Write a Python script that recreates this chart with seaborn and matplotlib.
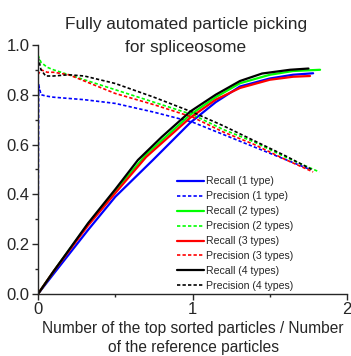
import matplotlib
matplotlib.use("Agg")
import matplotlib.pyplot as plt
import seaborn as sns
import pandas as pd
from matplotlib.ticker import MultipleLocator

# Dados (x = partículas top / partículas de referência)
x_rec_1 = [0, 0.1, 0.324, 0.5, 0.744, 0.984, 1.15, 1.307, 1.5, 1.65, 1.78]
y_rec_1 = [0, 0.08, 0.257, 0.39, 0.538, 0.687, 0.77, 0.833, 0.865, 0.88, 0.886]
x_pre_1 = [0, 0.005, 0.02, 0.05, 0.1, 0.2, 0.3, 0.5, 0.75, 1.0, 1.2, 1.4, 1.6, 1.76]
y_pre_1 = [0, 0.84, 0.80, 0.795, 0.79, 0.785, 0.78, 0.765, 0.73, 0.69, 0.64, 0.59, 0.54, 0.50]

x_rec_2 = [0, 0.1, 0.324, 0.5, 0.7, 0.984, 1.15, 1.307, 1.5, 1.65, 1.825]
y_rec_2 = [0, 0.09, 0.28, 0.415, 0.56, 0.719, 0.79, 0.846, 0.88, 0.895, 0.90]
x_pre_2 = [0, 0.02, 0.06, 0.1, 0.2, 0.5, 0.75, 1.0, 1.2, 1.4, 1.6, 1.82]
y_pre_2 = [0.96, 0.93, 0.91, 0.90, 0.88, 0.82, 0.77, 0.72, 0.66, 0.61, 0.55, 0.49]

x_rec_3 = [0, 0.1, 0.324, 0.5, 0.7, 0.984, 1.15, 1.307, 1.5, 1.65, 1.76]
y_rec_3 = [0, 0.09, 0.275, 0.405, 0.55, 0.707, 0.78, 0.827, 0.86, 0.872, 0.875]
x_pre_3 = [0, 0.02, 0.06, 0.1, 0.2, 0.5, 0.75, 1.0, 1.2, 1.4, 1.6, 1.78]
y_pre_3 = [0.88, 0.90, 0.89, 0.89, 0.88, 0.805, 0.76, 0.71, 0.65, 0.60, 0.54, 0.49]

x_rec_4 = [0, 0.1, 0.324, 0.5, 0.647, 0.8, 0.984, 1.15, 1.307, 1.45, 1.63, 1.75]
y_rec_4 = [0, 0.09, 0.284, 0.42, 0.538, 0.63, 0.732, 0.80, 0.855, 0.885, 0.90, 0.905]
x_pre_4 = [0, 0.002, 0.02, 0.05, 0.1, 0.2, 0.3, 0.5, 0.75, 1.0, 1.2, 1.4, 1.6, 1.77]
y_pre_4 = [0, 0.95, 0.90, 0.875, 0.875, 0.88, 0.875, 0.845, 0.79, 0.73, 0.675, 0.615, 0.555, 0.50]

series = [
    ("Recall (1 type)", x_rec_1, y_rec_1, "#0000ff", "-"),
    ("Precision (1 type)", x_pre_1, y_pre_1, "#0000ff", "--"),
    ("Recall (2 types)", x_rec_2, y_rec_2, "#00ff00", "-"),
    ("Precision (2 types)", x_pre_2, y_pre_2, "#00ff00", "--"),
    ("Recall (3 types)", x_rec_3, y_rec_3, "#ff0000", "-"),
    ("Precision (3 types)", x_pre_3, y_pre_3, "#ff0000", "--"),
    ("Recall (4 types)", x_rec_4, y_rec_4, "#000000", "-"),
    ("Precision (4 types)", x_pre_4, y_pre_4, "#000000", "--"),
]

sns.set_style("ticks")
plt.rcParams['font.family'] = ['Liberation Sans', 'DejaVu Sans']

fig = plt.figure(figsize=(3.51, 3.56), dpi=100)
ax = fig.add_axes([0.108, 0.174, 0.881, 0.700])

for nome, xs, ys, cor, estilo in series:
    df = pd.DataFrame({"x": xs, "y": ys})
    if estilo == "-":
        sns.lineplot(data=df, x="x", y="y", ax=ax, color=cor, lw=1.6,
                     sort=False, label=nome)
    else:
        sns.lineplot(data=df, x="x", y="y", ax=ax, color=cor, lw=1.2,
                     sort=False, label=nome, linestyle=(0, (2, 1.3)))

ax.set_xlim(0, 2)
ax.set_ylim(0, 1.0)
ax.xaxis.set_major_locator(MultipleLocator(1))
ax.xaxis.set_minor_locator(MultipleLocator(0.5))
ax.yaxis.set_major_locator(MultipleLocator(0.2))
ax.yaxis.set_minor_locator(MultipleLocator(0.1))
ax.yaxis.set_major_formatter(matplotlib.ticker.FormatStrFormatter("%.1f"))
ax.tick_params(which="major", direction="out", length=4, width=1, labelsize=12, pad=2)
ax.tick_params(which="minor", direction="out", length=2.5, width=1)
sns.despine(ax=ax)
ax.spines["left"].set_linewidth(1)
ax.spines["bottom"].set_linewidth(1)

ax.set_xlabel("")
ax.set_ylabel("")

leg = ax.legend(loc="lower left", bbox_to_anchor=(0.435, -0.005), frameon=False,
                fontsize=7.6, handlelength=2.55, handletextpad=0.2,
                labelspacing=0.47, borderaxespad=0)

fig.text(186 / 351, 1 - 36 / 356, "Fully automated particle picking\nfor spliceosome",
         ha="center", va="center", fontsize=12.4, linespacing=1.6)
fig.text(193 / 351, 1 - 338 / 356,
         "Number of the top sorted particles / Number\nof the reference particles",
         ha="center", va="center", fontsize=11.2, linespacing=1.3)

fig.savefig("out.png", dpi=100)
